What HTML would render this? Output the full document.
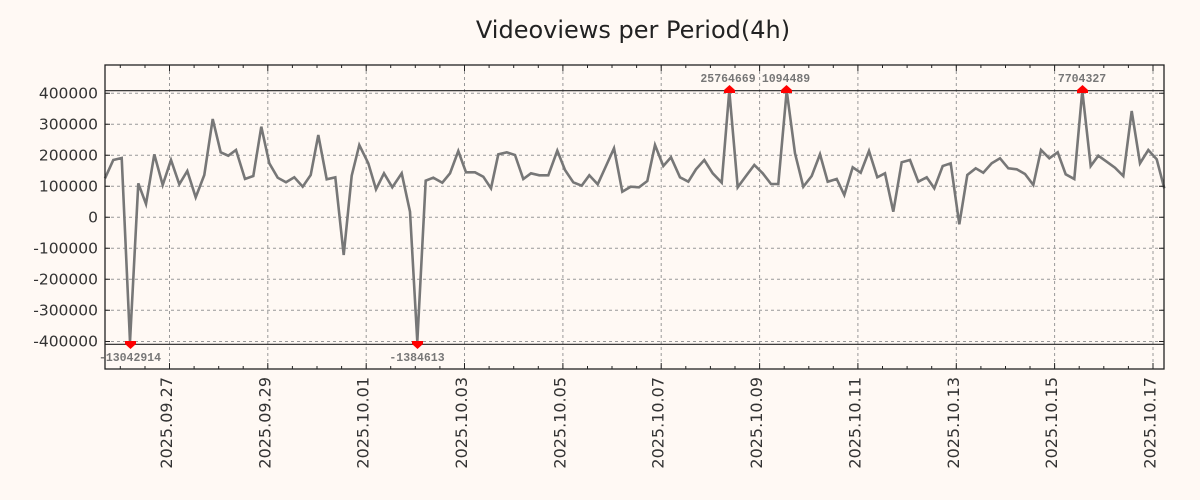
<!DOCTYPE html>
<html><head><meta charset="utf-8"><style>
html,body{margin:0;padding:0;background:#fff9f4;}
svg{display:block}
</style></head><body>
<svg width="1200" height="500" xmlns="http://www.w3.org/2000/svg" font-family="DejaVu Sans, Liberation Sans, sans-serif">
<rect width="1200" height="500" fill="#fff9f4"/>
<text x="633" y="38" font-size="24" text-anchor="middle" fill="#222">Videoviews per Period(4h)</text>
<g stroke="#999" stroke-width="1" stroke-dasharray="3,3">
<line x1="105" x2="1164" y1="93.3" y2="93.3"/><line x1="105" x2="1164" y1="124.3" y2="124.3"/><line x1="105" x2="1164" y1="155.3" y2="155.3"/><line x1="105" x2="1164" y1="186.3" y2="186.3"/><line x1="105" x2="1164" y1="217.3" y2="217.3"/><line x1="105" x2="1164" y1="248.3" y2="248.3"/><line x1="105" x2="1164" y1="279.3" y2="279.3"/><line x1="105" x2="1164" y1="310.3" y2="310.3"/><line x1="105" x2="1164" y1="341.5" y2="341.5"/>
<line y1="65" y2="369" x1="169.5" x2="169.5"/><line y1="65" y2="369" x1="267.8" x2="267.8"/><line y1="65" y2="369" x1="366.2" x2="366.2"/><line y1="65" y2="369" x1="464.5" x2="464.5"/><line y1="65" y2="369" x1="562.9" x2="562.9"/><line y1="65" y2="369" x1="661.2" x2="661.2"/><line y1="65" y2="369" x1="759.6" x2="759.6"/><line y1="65" y2="369" x1="857.9" x2="857.9"/><line y1="65" y2="369" x1="956.3" x2="956.3"/><line y1="65" y2="369" x1="1054.6" x2="1054.6"/><line y1="65" y2="369" x1="1153" x2="1153"/>
</g>
<line x1="105" x2="1164" y1="90.7" y2="90.7" stroke="#222" stroke-width="1.2"/>
<line x1="105" x2="1164" y1="344.3" y2="344.3" stroke="#222" stroke-width="1.2"/>
<polyline fill="none" stroke="#777" stroke-width="2.6" stroke-linejoin="miter" points="105,178.3 113.3,160 121.7,158 130,341.7 138.3,183.3 146,204 154.3,154.3 162.7,185 171,160 179.3,184.3 187.3,171 195.7,197.3 204.3,175 212.7,119 220.7,152.3 228.3,155.7 236,150 245,179 253.3,176 261.3,126.7 269.3,163.3 277.7,177.7 286,182.3 294.3,177.3 302.7,186.7 310.7,175 318.3,135 326.7,179.3 335.3,177.3 343.7,255 351.7,175.7 359.3,145 368.3,163.3 376,189.3 384,173.3 392.3,187.3 401.7,173.3 410,211.7 417.3,341.7 425.7,180.7 433.3,177.7 442.3,182.7 450,173.3 458.3,151 466,172.3 475,172.3 483.3,176.7 491,188.3 498.3,154.3 506.7,152.3 515,155 523.3,179 531,173.3 539.3,175.3 548.3,175.3 557.3,150.7 565,170 573.3,182.3 581.7,185.7 589.3,175.3 597.7,184.3 606,166 614,148.3 622.3,191.7 630.7,186.7 639,187.3 647.3,181 655,145 663.3,166 671,157.3 680,177.3 688.3,181.7 696,169.3 704.3,160 712.7,173.3 721.7,182.7 729.3,90.7 737.7,187.3 746,176 754.3,165 762.7,173.3 771,184 778.3,184 786.7,90.7 795,153.3 803.3,186.7 811.7,176 820,154.3 827.7,181.7 836.7,179 844.3,195 852.7,167.3 860.7,172.7 869,151 877.3,177.3 885,173.3 893.3,211.7 901.7,162.3 910,160 918.3,181.7 926.7,177.3 934.3,188.3 942.7,166 950.7,163.3 959.3,224.3 967.3,175 975.7,168.3 983.3,172.7 991.7,163.3 1000,158.3 1008.3,168.3 1016.7,169.3 1025,174 1033.3,185 1041,150 1049.3,158.3 1057.7,152.3 1065.7,174.3 1074.3,179 1082.3,90.7 1090.7,166 1098.3,155.7 1106.7,161.7 1115,167.7 1123.3,176 1131.7,111 1140,163.3 1148.3,150 1156.7,159.3 1164.3,188.3"/>
<g fill="#f00">
<path d="M724,93 h11 v-3 l-5.5,-5 l-5.5,5z"/><path d="M781,93 h11 v-3 l-5.5,-5 l-5.5,5z"/><path d="M1077,93 h11 v-3 l-5.5,-5 l-5.5,5z"/>
<path d="M125,341 h11 v3 l-5.5,5 l-5.5,-5z"/><path d="M412,341 h11 v3 l-5.5,5 l-5.5,-5z"/>
</g>
<g font-family="Liberation Mono, monospace" font-weight="bold" font-size="11.5" fill="#777" text-anchor="middle">
<text x="728" y="82">25764669</text><text x="786" y="82">1094489</text><text x="1082" y="82">7704327</text>
<text x="130" y="361">-13042914</text><text x="417" y="361">-1384613</text>
</g>
<rect x="105" y="65" width="1059" height="304" fill="none" stroke="#222" stroke-width="1.3"/>
<g stroke="#222" stroke-width="1">
<path d="M169.5,369v-6M267.8,369v-6M366.2,369v-6M464.5,369v-6M562.9,369v-6M661.2,369v-6M759.6,369v-6M857.9,369v-6M956.3,369v-6M1054.6,369v-6M1153,369v-6M169.5,65v6M267.8,65v6M366.2,65v6M464.5,65v6M562.9,65v6M661.2,65v6M759.6,65v6M857.9,65v6M956.3,65v6M1054.6,65v6M1153,65v6"/>
<path d="M120.3,369v-3M145,369v-3M194.1,369v-3M218.7,369v-3M243.2,369v-3M292.4,369v-3M317,369v-3M341.6,369v-3M390.7,369v-3M415.3,369v-3M439.9,369v-3M489.1,369v-3M513.7,369v-3M538.3,369v-3M587.5,369v-3M612,369v-3M636.6,369v-3M685.8,369v-3M710.4,369v-3M735,369v-3M784.2,369v-3M808.8,369v-3M833.3,369v-3M882.5,369v-3M907.1,369v-3M931.7,369v-3M980.9,369v-3M1005.5,369v-3M1030,369v-3M1079.2,369v-3M1103.8,369v-3M1128.4,369v-3"/>
<path d="M120.3,65v3M145,65v3M194.1,65v3M218.7,65v3M243.2,65v3M292.4,65v3M317,65v3M341.6,65v3M390.7,65v3M415.3,65v3M439.9,65v3M489.1,65v3M513.7,65v3M538.3,65v3M587.5,65v3M612,65v3M636.6,65v3M685.8,65v3M710.4,65v3M735,65v3M784.2,65v3M808.8,65v3M833.3,65v3M882.5,65v3M907.1,65v3M931.7,65v3M980.9,65v3M1005.5,65v3M1030,65v3M1079.2,65v3M1103.8,65v3M1128.4,65v3"/>
<path d="M105,93.3h5M105,124.3h5M105,155.3h5M105,186.3h5M105,217.3h5M105,248.3h5M105,279.3h5M105,310.3h5M105,341.5h5M1164,93.3h-5M1164,124.3h-5M1164,155.3h-5M1164,186.3h-5M1164,217.3h-5M1164,248.3h-5M1164,279.3h-5M1164,310.3h-5M1164,341.5h-5"/>
</g>
<g font-size="15.5" fill="#333" text-anchor="end">
<text x="98" y="98.5">400000</text><text x="98" y="129.5">300000</text><text x="98" y="160.5">200000</text><text x="98" y="191.5">100000</text><text x="98" y="222.5">0</text><text x="98" y="253.5">-100000</text><text x="98" y="284.5">-200000</text><text x="98" y="315.5">-300000</text><text x="98" y="346.5">-400000</text>
</g>
<g font-size="16" fill="#333" text-anchor="end">
<text transform="translate(172,377) rotate(-90)">2025.09.27</text>
<text transform="translate(270.3,377) rotate(-90)">2025.09.29</text>
<text transform="translate(368.7,377) rotate(-90)">2025.10.01</text>
<text transform="translate(467,377) rotate(-90)">2025.10.03</text>
<text transform="translate(565.4,377) rotate(-90)">2025.10.05</text>
<text transform="translate(663.7,377) rotate(-90)">2025.10.07</text>
<text transform="translate(762.1,377) rotate(-90)">2025.10.09</text>
<text transform="translate(860.4,377) rotate(-90)">2025.10.11</text>
<text transform="translate(958.8,377) rotate(-90)">2025.10.13</text>
<text transform="translate(1057.1,377) rotate(-90)">2025.10.15</text>
<text transform="translate(1155.5,377) rotate(-90)">2025.10.17</text>
</g>
</svg>
</body></html>
